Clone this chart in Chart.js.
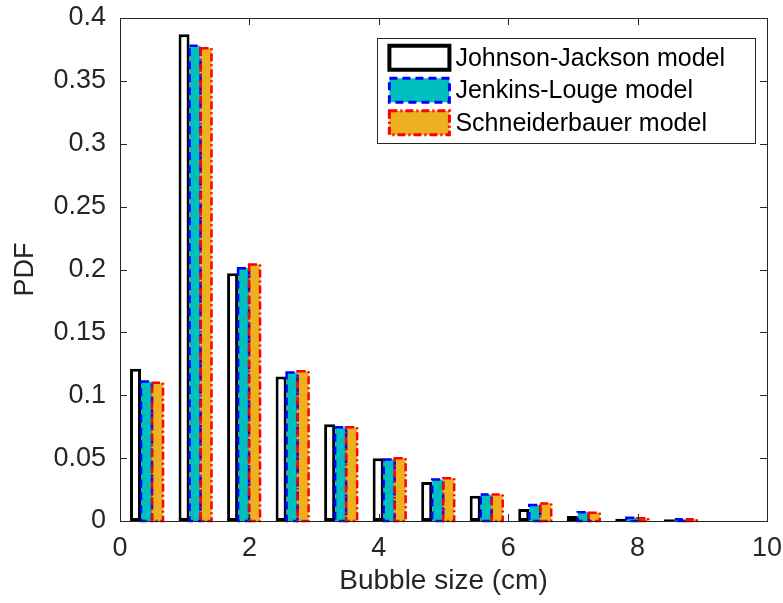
<!DOCTYPE html>
<html>
<head>
<meta charset="utf-8">
<script src="https://cdn.jsdelivr.net/npm/chart.js@4.4.1/dist/chart.umd.min.js"></script>
<style>
  html, body { margin: 0; padding: 0; background: #fff; }
  #wrap { width: 783px; height: 603px; position: relative; }
</style>
</head>
<body>
<div id="wrap"><canvas id="pdfChart"></canvas></div>
<script>
// bubble size bin centres (cm)
const binCenters = [0.41, 1.16, 1.91, 2.66, 3.41, 4.16, 4.91, 5.66, 6.41, 7.16, 7.91, 8.66];

// PDF values
const johnsonJackson = [0.121, 0.387, 0.197, 0.115, 0.077, 0.050, 0.031, 0.020, 0.0095, 0.004, 0.0018, 0.0013];
const jenkinsLouge   = [0.111, 0.378, 0.201, 0.118, 0.0745, 0.049, 0.033, 0.021, 0.0127, 0.007, 0.0026, 0.0013];
const schneiderbauer = [0.110, 0.376, 0.204, 0.119, 0.0745, 0.050, 0.034, 0.021, 0.014, 0.0066, 0.0022, 0.0013];

const xTicks = [0, 2, 4, 6, 8, 10];
const yTicks = [0, 0.05, 0.1, 0.15, 0.2, 0.25, 0.3, 0.35, 0.4];

const axisColor = '#262626';
const fontFamily = '"Liberation Sans", Arial, Helvetica, sans-serif';

function toPoints(values) {
    return binCenters.map((c, i) => ({ x: c, y: values[i] }));
}

// bars in Chart.js only get solid borders, so dashed ones are stroked here
const dashedBorders = {
    id: 'dashedBorders',
    afterDatasetsDraw(chart) {
        const ctx = chart.ctx;
        chart.data.datasets.forEach((ds, i) => {
            if (!ds.dashBorder) return;
            const meta = chart.getDatasetMeta(i);
            ctx.save();
            ctx.strokeStyle = ds.dashBorder.color;
            ctx.lineWidth = ds.dashBorder.width;
            ctx.setLineDash(ds.dashBorder.dash);
            meta.data.forEach(bar => {
                const p = bar.getProps(['x', 'y', 'base', 'width'], true);
                ctx.strokeRect(p.x - p.width / 2, p.y, p.width, p.base - p.y);
            });
            ctx.restore();
        });
    }
};

// MATLAB style box with inward ticks on all four sides
const axisBox = {
    id: 'axisBox',
    afterDraw(chart) {
        const ctx = chart.ctx;
        const a = chart.chartArea;
        const xs = chart.scales.x, ys = chart.scales.y;
        const len = 7;
        ctx.save();
        ctx.strokeStyle = axisColor;
        ctx.lineWidth = 1;
        ctx.strokeRect(Math.round(a.left) + 0.5, Math.round(a.top) + 0.5,
            Math.round(a.right - a.left), Math.round(a.bottom - a.top));
        ctx.beginPath();
        xTicks.forEach(v => {
            const px = Math.round(xs.getPixelForValue(v)) + 0.5;
            ctx.moveTo(px, a.bottom); ctx.lineTo(px, a.bottom - len);
            ctx.moveTo(px, a.top); ctx.lineTo(px, a.top + len);
        });
        yTicks.forEach(v => {
            const py = Math.round(ys.getPixelForValue(v)) + 0.5;
            ctx.moveTo(a.left, py); ctx.lineTo(a.left + len, py);
            ctx.moveTo(a.right, py); ctx.lineTo(a.right - len, py);
        });
        ctx.stroke();
        ctx.restore();
    }
};

// legend box drawn inside the plot, top right
const boxLegend = {
    id: 'boxLegend',
    afterDraw(chart) {
        const ctx = chart.ctx;
        const a = chart.chartArea;
        ctx.save();
        ctx.font = '25px ' + fontFamily;
        const labels = chart.data.datasets.map(d => d.label);
        const textW = Math.max(...labels.map(t => ctx.measureText(t).width));
        const rowH = 32.5, swW = 60, swH = 24;
        const w = 12 + swW + 6 + textW + 30;
        const h = rowH * labels.length + 7;
        const left = a.right - 12 - w, top = a.top + 20;
        ctx.fillStyle = '#fff';
        ctx.fillRect(left, top, w, h);
        ctx.strokeStyle = axisColor;
        ctx.lineWidth = 1;
        ctx.strokeRect(Math.round(left) + 0.5, Math.round(top) + 0.5, Math.round(w), Math.round(h));
        chart.data.datasets.forEach((ds, i) => {
            const cy = top + 3.5 + rowH * i + rowH / 2;
            const sx = left + 12, sy = cy - swH / 2;
            ctx.fillStyle = ds.backgroundColor;
            ctx.fillRect(sx, sy, swW, swH);
            if (ds.dashBorder) {
                ctx.strokeStyle = ds.dashBorder.color;
                ctx.lineWidth = ds.dashBorder.width + 0.5;
                ctx.setLineDash(ds.dashBorder.dash);
            } else {
                ctx.strokeStyle = ds.borderColor;
                ctx.lineWidth = ds.borderWidth + 1;
                ctx.setLineDash([]);
            }
            ctx.strokeRect(sx, sy, swW, swH);
            ctx.setLineDash([]);
            ctx.fillStyle = '#000';
            ctx.textBaseline = 'middle';
            ctx.fillText(ds.label, sx + swW + 6, cy + 1);
        });
        ctx.restore();
    }
};

const ctx = document.getElementById('pdfChart').getContext('2d');
const pdfChart = new Chart(ctx, {
    type: 'bar',
    data: {
        datasets: [
            {
                label: 'Johnson-Jackson model',
                data: toPoints(johnsonJackson),
                backgroundColor: '#ffffff',
                borderColor: '#000000',
                borderWidth: 3,
                borderSkipped: false
            },
            {
                label: 'Jenkins-Louge model',
                data: toPoints(jenkinsLouge),
                backgroundColor: '#00bfbf',
                borderWidth: 0,
                dashBorder: { color: '#0000ff', width: 2.5, dash: [8, 5] }
            },
            {
                label: 'Schneiderbauer model',
                data: toPoints(schneiderbauer),
                backgroundColor: '#edb120',
                borderWidth: 0,
                dashBorder: { color: '#ff0000', width: 2.5, dash: [8, 3, 2, 3] }
            }
        ]
    },
    options: {
        responsive: true,
        maintainAspectRatio: false,
        animation: false,
        categoryPercentage: 0.68,
        barPercentage: 1.0,
        layout: { padding: { left: 0, right: 16, top: 18, bottom: 0 } },
        plugins: {
            legend: { display: false },
            tooltip: { enabled: false }
        },
        scales: {
            x: {
                type: 'linear',
                offset: false,
                min: 0,
                max: 10,
                afterBuildTicks: s => { s.ticks = xTicks.map(v => ({ value: v })); },
                afterFit: s => { s.height = 82; s.paddingLeft = 0; s.paddingRight = 0; },
                grid: { display: false, drawTicks: false },
                border: { display: false },
                ticks: {
                    padding: 11,
                    color: axisColor,
                    font: { family: fontFamily, size: 27 },
                    maxRotation: 0
                },
                title: {
                    display: true,
                    text: 'Bubble size (cm)',
                    color: axisColor,
                    font: { family: fontFamily, size: 28 },
                    padding: { top: 5, bottom: 5 }
                }
            },
            y: {
                min: 0,
                max: 0.4,
                afterBuildTicks: s => { s.ticks = yTicks.map(v => ({ value: v })); },
                afterFit: s => { s.width = 120; s.paddingTop = 0; s.paddingBottom = 0; },
                grid: { display: false, drawTicks: false },
                border: { display: false },
                ticks: {
                    padding: 14,
                    color: axisColor,
                    font: { family: fontFamily, size: 27 },
                    callback: v => String(+v.toFixed(2))
                },
                title: {
                    display: true,
                    text: 'PDF',
                    color: axisColor,
                    font: { family: fontFamily, size: 27 },
                    padding: { top: 9, bottom: 0 }
                }
            }
        }
    },
    plugins: [dashedBorders, axisBox, boxLegend]
});
</script>
</body>
</html>
